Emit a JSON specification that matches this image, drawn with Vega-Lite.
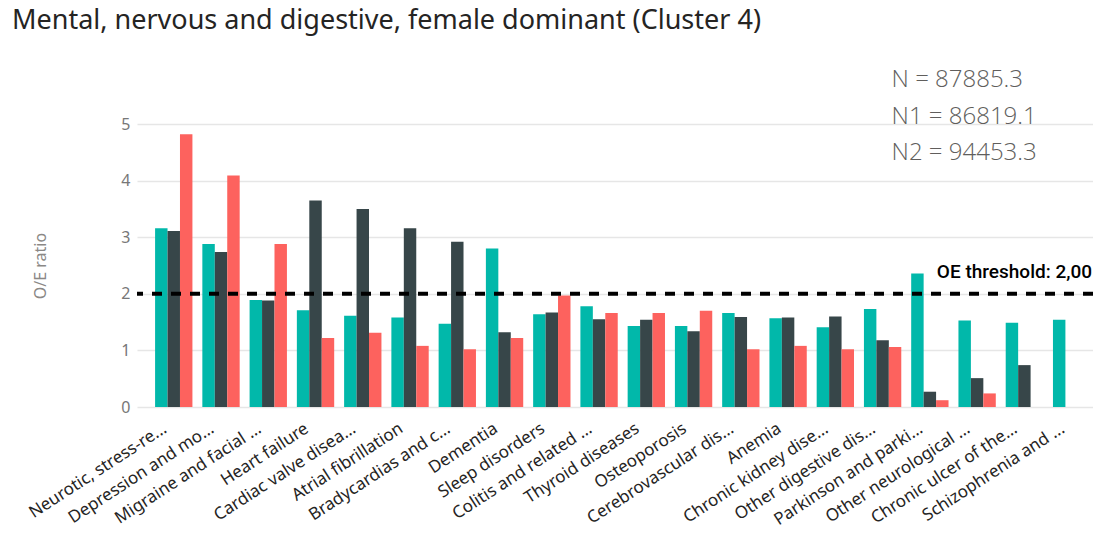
{
  "$schema": "https://vega.github.io/schema/vega-lite/v6.json",
  "autosize": {"type": "none"},
  "padding": {"left": 137, "top": 124, "right": 0, "bottom": 127},
  "width": 956,
  "height": 283,
  "background": "white",
  "title": {
    "text": "Mental, nervous and digestive, female dominant (Cluster 4)",
    "anchor": "start",
    "frame": "group",
    "dx": -125,
    "offset": 12,
    "baseline": "alphabetic",
    "font": "Noto Sans",
    "fontSize": 27,
    "fontWeight": "normal",
    "color": "#252423"
  },
  "config": {
    "view": {"stroke": null},
    "font": "Noto Sans"
  },
  "datasets": {
    "bars": [
      {"category": "Neurotic, stress-re...", "series": "All", "ratio": 3.16},
      {"category": "Neurotic, stress-re...", "series": "Group 1", "ratio": 3.11},
      {"category": "Neurotic, stress-re...", "series": "Group 2", "ratio": 4.82},
      {"category": "Depression and mo...", "series": "All", "ratio": 2.88},
      {"category": "Depression and mo...", "series": "Group 1", "ratio": 2.74},
      {"category": "Depression and mo...", "series": "Group 2", "ratio": 4.09},
      {"category": "Migraine and facial ...", "series": "All", "ratio": 1.89},
      {"category": "Migraine and facial ...", "series": "Group 1", "ratio": 1.88},
      {"category": "Migraine and facial ...", "series": "Group 2", "ratio": 2.88},
      {"category": "Heart failure", "series": "All", "ratio": 1.71},
      {"category": "Heart failure", "series": "Group 1", "ratio": 3.65},
      {"category": "Heart failure", "series": "Group 2", "ratio": 1.22},
      {"category": "Cardiac valve disea...", "series": "All", "ratio": 1.61},
      {"category": "Cardiac valve disea...", "series": "Group 1", "ratio": 3.5},
      {"category": "Cardiac valve disea...", "series": "Group 2", "ratio": 1.31},
      {"category": "Atrial fibrillation", "series": "All", "ratio": 1.58},
      {"category": "Atrial fibrillation", "series": "Group 1", "ratio": 3.16},
      {"category": "Atrial fibrillation", "series": "Group 2", "ratio": 1.08},
      {"category": "Bradycardias and c...", "series": "All", "ratio": 1.47},
      {"category": "Bradycardias and c...", "series": "Group 1", "ratio": 2.92},
      {"category": "Bradycardias and c...", "series": "Group 2", "ratio": 1.02},
      {"category": "Dementia", "series": "All", "ratio": 2.8},
      {"category": "Dementia", "series": "Group 1", "ratio": 1.32},
      {"category": "Dementia", "series": "Group 2", "ratio": 1.22},
      {"category": "Sleep disorders", "series": "All", "ratio": 1.64},
      {"category": "Sleep disorders", "series": "Group 1", "ratio": 1.67},
      {"category": "Sleep disorders", "series": "Group 2", "ratio": 1.97},
      {"category": "Colitis and related ...", "series": "All", "ratio": 1.78},
      {"category": "Colitis and related ...", "series": "Group 1", "ratio": 1.55},
      {"category": "Colitis and related ...", "series": "Group 2", "ratio": 1.66},
      {"category": "Thyroid diseases", "series": "All", "ratio": 1.43},
      {"category": "Thyroid diseases", "series": "Group 1", "ratio": 1.54},
      {"category": "Thyroid diseases", "series": "Group 2", "ratio": 1.66},
      {"category": "Osteoporosis", "series": "All", "ratio": 1.43},
      {"category": "Osteoporosis", "series": "Group 1", "ratio": 1.34},
      {"category": "Osteoporosis", "series": "Group 2", "ratio": 1.7},
      {"category": "Cerebrovascular dis...", "series": "All", "ratio": 1.66},
      {"category": "Cerebrovascular dis...", "series": "Group 1", "ratio": 1.59},
      {"category": "Cerebrovascular dis...", "series": "Group 2", "ratio": 1.02},
      {"category": "Anemia", "series": "All", "ratio": 1.57},
      {"category": "Anemia", "series": "Group 1", "ratio": 1.58},
      {"category": "Anemia", "series": "Group 2", "ratio": 1.08},
      {"category": "Chronic kidney dise...", "series": "All", "ratio": 1.41},
      {"category": "Chronic kidney dise...", "series": "Group 1", "ratio": 1.6},
      {"category": "Chronic kidney dise...", "series": "Group 2", "ratio": 1.02},
      {"category": "Other digestive dis...", "series": "All", "ratio": 1.73},
      {"category": "Other digestive dis...", "series": "Group 1", "ratio": 1.18},
      {"category": "Other digestive dis...", "series": "Group 2", "ratio": 1.06},
      {"category": "Parkinson and parki...", "series": "All", "ratio": 2.36},
      {"category": "Parkinson and parki...", "series": "Group 1", "ratio": 0.27},
      {"category": "Parkinson and parki...", "series": "Group 2", "ratio": 0.12},
      {"category": "Other neurological ...", "series": "All", "ratio": 1.53},
      {"category": "Other neurological ...", "series": "Group 1", "ratio": 0.51},
      {"category": "Other neurological ...", "series": "Group 2", "ratio": 0.24},
      {"category": "Chronic ulcer of the...", "series": "All", "ratio": 1.49},
      {"category": "Chronic ulcer of the...", "series": "Group 1", "ratio": 0.74},
      {"category": "Schizophrenia and ...", "series": "All", "ratio": 1.54}
    ],
    "notes": [
      {"category": "Other digestive dis...", "label": "N = 87885.3", "ratio": 5.78},
      {"category": "Other digestive dis...", "label": "N1 = 86819.1", "ratio": 5.12},
      {"category": "Other digestive dis...", "label": "N2 = 94453.3", "ratio": 4.48}
    ],
    "threshold": [
      {"category": "Parkinson and parki...", "label": "OE threshold: 2,00", "ratio": 2}
    ]
  },
  "encoding": {
    "x": {
      "field": "category",
      "type": "nominal",
      "sort": null,
      "scale": {"paddingInner": 0.21, "paddingOuter": 0.22, "align": 0.87},
      "axis": {
        "title": null,
        "labelAngle": -33,
        "labelFontSize": 17,
        "labelColor": "#252423",
        "labelFont": "Noto Sans",
        "ticks": false,
        "domain": false,
        "labelPadding": 13,
        "labelOffset": -13,
        "labelLimit": 300
      }
    },
    "y": {
      "field": "ratio",
      "type": "quantitative",
      "scale": {"domain": [0, 5], "nice": false},
      "axis": {
        "title": "O/E ratio",
        "titleFont": "Noto Sans",
        "titleFontSize": 16,
        "titleFontWeight": "normal",
        "titleColor": "#8a8886",
        "titlePadding": 72,
        "labelFont": "Noto Sans",
        "labelFontSize": 16,
        "labelColor": "#777777",
        "labelPadding": 7,
        "values": [0, 1, 2, 3, 4, 5],
        "ticks": false,
        "domain": false,
        "gridColor": "#e6e6e6",
        "gridWidth": 1.5
      }
    }
  },
  "layer": [
    {
      "data": {"name": "bars"},
      "mark": {"type": "bar"},
      "encoding": {
        "xOffset": {"field": "series", "type": "nominal", "scale": {"domain": ["All", "Group 1", "Group 2"]}},
        "color": {
          "field": "series",
          "type": "nominal",
          "scale": {"domain": ["All", "Group 1", "Group 2"], "range": ["#01B8AA", "#374649", "#FD625E"]},
          "legend": null
        }
      }
    },
    {
      "data": {"name": "threshold"},
      "mark": {"type": "rule", "color": "black", "strokeWidth": 4, "strokeDash": [10, 9]},
      "encoding": {"x": null}
    },
    {
      "data": {"name": "threshold"},
      "mark": {"type": "text", "align": "left", "baseline": "alphabetic", "dx": 7, "dy": -16, "fontSize": 19, "font": "Roboto", "fontWeight": 500, "color": "black"},
      "encoding": {"text": {"field": "label"}}
    },
    {
      "data": {"name": "notes"},
      "mark": {"type": "text", "align": "left", "baseline": "middle", "dx": 9, "fontSize": 24, "font": "Open Sans", "fontWeight": 300, "color": "#605E5C", "clip": false},
      "encoding": {"text": {"field": "label"}}
    }
  ]
}
